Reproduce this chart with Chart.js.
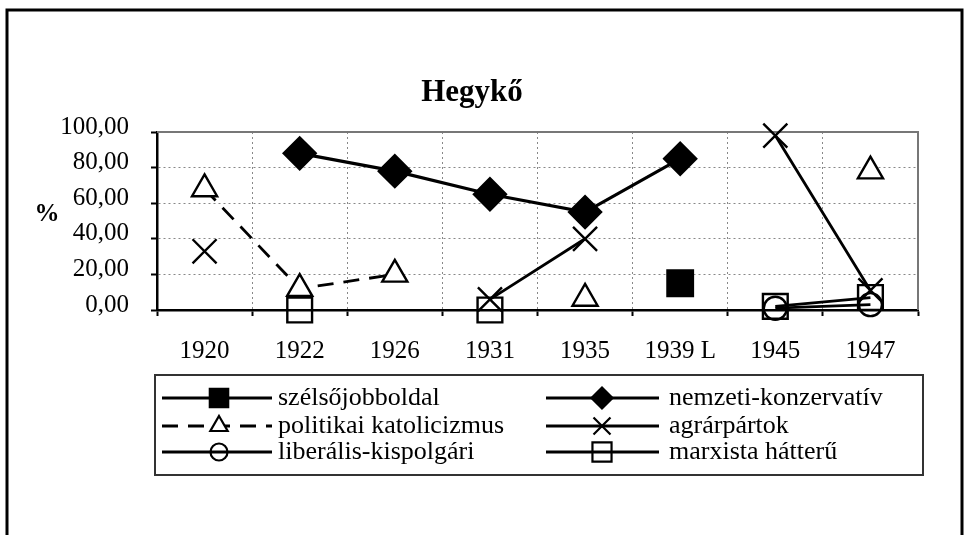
<!DOCTYPE html>
<html>
<head>
<meta charset="utf-8">
<script src="https://cdn.jsdelivr.net/npm/chart.js@4/dist/chart.umd.min.js"></script>
<style>
  html, body { margin: 0; padding: 0; background: #fff; }
  #wrap { width: 968px; height: 535px; }
</style>
</head>
<body>
<div id="wrap"><canvas id="chart" width="968" height="535"></canvas></div>
<script>
const years = ['1920', '1922', '1926', '1931', '1935', '1939 L', '1945', '1947'];
const yTicks = [0, 20, 40, 60, 80, 100];

// értékek %-ban
const szelsojobb = [null, null, null, null, null, 15, null, null];
const nemzeti = [null, 88, 78, 65, 55, 85, null, null];
const politikai = [68, 12, 20, null, 6.5, null, null, 78];
const agrar = [33, null, null, 6, 40, null, 98, 11];
const liberalis = [null, null, null, null, null, null, 1, 3];
const marxista = [null, 0, null, 0, null, null, 2, 7];

const serif = '"Liberation Serif", "Times New Roman", serif';
const ink = '#000';

function series(label, data, style) {
  return Object.assign({
    label: label,
    data: data,
    borderColor: ink,
    borderWidth: 2.8,
    pointBorderColor: ink,
    pointBorderWidth: 2.4,
    pointBackgroundColor: 'rgba(0,0,0,0)',
    tension: 0,
    spanGaps: false,
    clip: false
  }, style);
}

const datasets = [
  series('szélsőjobboldal', szelsojobb, {pointStyle: 'rect', pointRadius: 18, pointBackgroundColor: ink, legendRadius: 13}),
  series('nemzeti-konzervatív', nemzeti, {pointStyle: 'rectRot', pointRadius: 16, pointBackgroundColor: ink, borderWidth: 3.2, legendRadius: 10.5}),
  series('politikai katolicizmus', politikai, {pointStyle: 'triangle', pointRadius: 14.5, pointBackgroundColor: '#fff', borderDash: [16, 10], legendRadius: 10}),
  series('agrárpártok', agrar, {pointStyle: 'crossRot', pointRadius: 17, legendRadius: 12}),
  series('liberális-kispolgári', liberalis, {pointStyle: 'circle', pointRadius: 11.5, legendRadius: 8.5}),
  series('marxista hátterű', marxista, {pointStyle: 'rect', pointRadius: 17.5, legendRadius: 13.5})
];

// keret, cím, % felirat, jelmagyarázat
const decor = {
  id: 'decor',
  beforeDatasetsDraw(chart) {
    const {ctx, chartArea: a} = chart;
    ctx.save();
    ctx.strokeStyle = '#777';
    ctx.lineWidth = 2;
    ctx.beginPath();
    ctx.moveTo(a.left, a.top);
    ctx.lineTo(a.right, a.top);
    ctx.lineTo(a.right, a.bottom);
    ctx.stroke();
    ctx.restore();
  },
  afterDraw(chart) {
    const ctx = chart.ctx;
    ctx.save();
    // külső keret
    ctx.strokeStyle = '#000';
    ctx.lineWidth = 3;
    ctx.beginPath();
    ctx.moveTo(7, 545);
    ctx.lineTo(7, 10);
    ctx.lineTo(962, 10);
    ctx.lineTo(962, 545);
    ctx.stroke();

    ctx.fillStyle = ink;
    ctx.textBaseline = 'alphabetic';
    ctx.textAlign = 'center';
    ctx.font = 'bold 31px ' + serif;
    ctx.fillText('Hegykő', 472, 101);
    ctx.font = 'bold 25px ' + serif;
    ctx.fillText('%', 47, 221);

    // jelmagyarázat doboz
    ctx.strokeStyle = '#333';
    ctx.lineWidth = 2;
    ctx.strokeRect(155, 375, 768, 100);

    const rows = [398, 426, 452];
    const cols = [{x0: 162, x1: 272, m: 219, t: 278}, {x0: 546, x1: 659, m: 602, t: 669}];
    chart.data.datasets.forEach((ds, i) => {
      const c = cols[i % 2];
      const y = rows[Math.floor(i / 2)];
      ctx.strokeStyle = ink;
      ctx.lineWidth = 2.8;
      ctx.setLineDash(ds.borderDash || []);
      ctx.beginPath();
      ctx.moveTo(c.x0, y);
      ctx.lineTo(c.x1, y);
      ctx.stroke();
      ctx.setLineDash([]);
      ctx.fillStyle = ds.pointBackgroundColor;
      ctx.lineWidth = 2.2;
      Chart.helpers.drawPoint(ctx, {pointStyle: ds.pointStyle, radius: ds.legendRadius, rotation: 0, borderWidth: 2.2}, c.m, y);
      ctx.fillStyle = ink;
      ctx.textAlign = 'left';
      ctx.textBaseline = 'middle';
      ctx.font = '26px ' + serif;
      ctx.fillText(ds.label, c.t, y);
    });
    ctx.restore();
  }
};

new Chart(document.getElementById('chart'), {
  type: 'line',
  data: {labels: years, datasets: datasets},
  options: {
    responsive: false,
    animation: false,
    layout: {padding: {top: 132, right: 50, bottom: 165, left: 0}},
    plugins: {
      legend: {display: false},
      title: {display: false},
      tooltip: {enabled: false}
    },
    scales: {
      x: {
        offset: true,
        afterFit(scale) { scale.height = 60; },
        grid: {
          offset: true,
          color: '#888',
          lineWidth: 1,
          tickLength: 6,
          tickColor: '#000',
          tickWidth: 2,
          tickBorderDash: []
        },
        border: {color: '#000', width: 2.5, dash: [2, 3]},
        ticks: {color: ink, font: {family: serif, size: 25}, padding: 20, maxRotation: 0, autoSkip: false}
      },
      y: {
        min: 0,
        max: 100,
        afterFit(scale) { scale.width = 157; },
        afterBuildTicks(scale) { scale.ticks = yTicks.map(v => ({value: v})); },
        grid: {
          color: '#888',
          lineWidth: 1,
          tickLength: 6,
          tickColor: '#000',
          tickWidth: 2,
          tickBorderDash: []
        },
        border: {color: '#000', width: 2.5, dash: [2, 3]},
        ticks: {
          color: ink,
          font: {family: serif, size: 25},
          padding: 22,
          labelOffset: -5,
          callback: v => v.toFixed(2).replace('.', ',')
        }
      }
    }
  },
  plugins: [decor]
});
</script>
</body>
</html>
